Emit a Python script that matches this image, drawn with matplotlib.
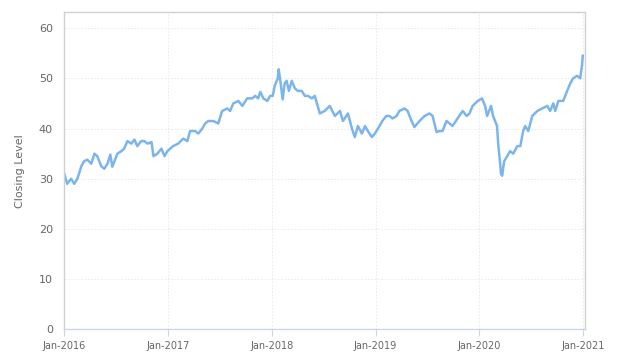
import matplotlib
matplotlib.use("Agg")
import matplotlib.pyplot as plt
import matplotlib.dates as mdates
import numpy as np
import pandas as pd

dates = [
    "2016-01-01", "2016-01-11", "2016-01-25", "2016-02-05", "2016-02-16", "2016-03-01", "2016-03-11", "2016-03-22",
    "2016-04-05", "2016-04-16", "2016-04-26", "2016-05-10", "2016-05-21", "2016-06-01", "2016-06-11", "2016-06-18",
    "2016-07-06", "2016-07-20", "2016-07-30", "2016-08-10", "2016-08-24", "2016-09-04", "2016-09-14", "2016-09-28",
    "2016-10-09", "2016-10-20", "2016-11-03", "2016-11-10", "2016-11-24", "2016-12-08", "2016-12-19", "2016-12-29",
    "2017-01-18", "2017-02-05", "2017-02-23", "2017-03-09", "2017-03-19", "2017-04-06", "2017-04-17", "2017-05-01",
    "2017-05-11", "2017-05-22", "2017-06-09", "2017-06-26", "2017-07-10", "2017-07-28", "2017-08-07", "2017-08-18",
    "2017-09-05", "2017-09-19", "2017-10-06", "2017-10-24", "2017-11-03", "2017-11-14", "2017-11-21", "2017-12-02",
    "2017-12-16", "2017-12-26",
    "2018-01-04", "2018-01-11", "2018-01-22", "2018-01-25", "2018-02-01", "2018-02-08", "2018-02-15", "2018-02-22",
    "2018-03-02", "2018-03-12", "2018-03-23", "2018-04-02", "2018-04-16", "2018-04-27", "2018-05-08", "2018-05-22",
    "2018-06-01", "2018-06-19", "2018-07-06", "2018-07-24", "2018-08-11", "2018-08-29", "2018-09-08", "2018-09-26",
    "2018-10-10", "2018-10-20", "2018-10-31", "2018-11-14", "2018-11-25", "2018-12-05", "2018-12-19", "2018-12-30",
    "2019-01-15", "2019-01-25", "2019-02-08", "2019-02-19", "2019-03-02", "2019-03-16", "2019-03-26", "2019-04-13",
    "2019-04-24", "2019-05-08", "2019-05-18", "2019-06-05", "2019-06-23", "2019-07-10", "2019-07-21", "2019-08-04",
    "2019-08-14", "2019-08-25", "2019-09-08", "2019-09-19", "2019-09-29", "2019-10-17", "2019-11-04", "2019-11-18",
    "2019-11-28", "2019-12-09", "2019-12-27",
    "2020-01-11", "2020-01-22", "2020-01-29", "2020-02-12", "2020-02-19", "2020-03-04", "2020-03-08", "2020-03-15",
    "2020-03-18", "2020-03-22", "2020-03-29", "2020-04-09", "2020-04-19", "2020-04-30", "2020-05-14", "2020-05-25",
    "2020-06-04", "2020-06-11", "2020-06-22", "2020-07-06", "2020-07-24", "2020-08-10", "2020-08-28", "2020-09-07",
    "2020-09-18", "2020-09-25", "2020-10-06", "2020-10-23", "2020-11-06", "2020-11-17", "2020-11-27", "2020-12-11",
    "2020-12-22", "2020-12-28", "2020-12-31",
]
closing = [
    31.0, 29.0, 30.0, 29.0, 30.0, 32.5, 33.5, 33.8,
    33.0, 35.0, 34.5, 32.5, 32.0, 33.0, 34.8, 32.4,
    35.0, 35.5, 36.0, 37.5, 37.0, 37.8, 36.5, 37.5,
    37.5, 37.0, 37.3, 34.5, 35.0, 36.0, 34.5, 35.5,
    36.5, 37.0, 38.0, 37.5, 39.5, 39.5, 39.0, 40.0,
    41.0, 41.5, 41.5, 41.0, 43.5, 44.0, 43.5, 45.0,
    45.5, 44.5, 46.0, 46.0, 46.5, 46.0, 47.3, 46.0,
    45.5, 46.5,
    46.5, 48.5, 50.0, 51.8, 49.0, 45.8, 49.0, 49.5,
    47.5, 49.5, 48.0, 47.5, 47.5, 46.5, 46.5, 46.0,
    46.5, 43.0, 43.5, 44.5, 42.5, 43.5, 41.5, 43.0,
    40.0, 38.3, 40.5, 39.0, 40.5, 39.5, 38.3, 39.0,
    40.5, 41.5, 42.5, 42.5, 42.0, 42.5, 43.5, 44.0,
    43.5, 41.5, 40.3, 41.5, 42.5, 43.0, 42.5, 39.3,
    39.5, 39.5, 41.5, 41.0, 40.5, 42.0, 43.5, 42.5,
    43.0, 44.5, 45.5,
    46.0, 44.5, 42.5, 44.5, 42.5, 40.5, 37.0, 33.0,
    31.0, 30.6, 33.5, 34.5, 35.5, 35.0, 36.5, 36.5,
    39.5, 40.5, 39.5, 42.5, 43.5, 44.0, 44.5, 43.5,
    45.0, 43.5, 45.5, 45.5, 47.5, 49.0, 50.0, 50.5,
    50.0, 52.5, 54.5,
]
y_ticks = [0, 10, 20, 30, 40, 50, 60]
x_ticks = ["2016-01-01", "2017-01-01", "2018-01-01", "2019-01-01", "2020-01-01", "2021-01-01"]

plt.rcParams['font.family'] = ['DejaVu Sans']
fig = plt.figure(figsize=(6.24, 3.63), dpi=100)
ax = fig.add_axes([0.1026, 0.0923, 0.835, 0.8747])

d = pd.to_datetime(dates)
ax.plot(d, closing, color="#7cb5ec", lw=1.8, solid_joinstyle="round")

ax.set_xlim(pd.Timestamp("2015-12-31"), pd.Timestamp("2021-01-08"))
ax.set_ylim(0, 63.2)
ax.set_yticks(y_ticks)
ax.set_xticks(pd.to_datetime(x_ticks))
ax.xaxis.set_major_formatter(mdates.DateFormatter("%b-%Y"))

ax.grid(True, color="#e8e8e8", linestyle=(0, (2, 2)), linewidth=0.6)
ax.set_axisbelow(True)
for s in ax.spines.values():
    s.set_color("#d0d0d0")
    s.set_linewidth(1.0)
ax.spines['bottom'].set_color("#ccd6eb")

ax.tick_params(axis='y', length=0, labelsize=8, labelcolor="#666666", pad=8)
ax.tick_params(axis='x', length=5, color="#ccd6eb", labelsize=7, labelcolor="#666666", pad=3)
ax.set_ylabel("Closing Level", fontsize=8, color="#666666", labelpad=10)

fig.savefig("out.png", dpi=100)
